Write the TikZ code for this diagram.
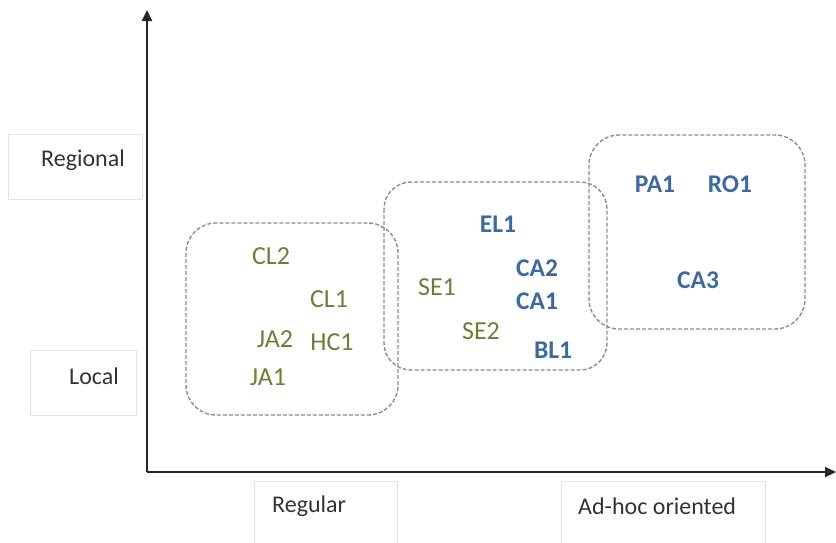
\documentclass[tikz,border=0pt]{standalone}
\usepackage{fontspec}
\setmainfont{Carlito}
\usetikzlibrary{arrows.meta}
\definecolor{olivetxt}{HTML}{6E7D37}
\definecolor{bluetxt}{HTML}{3C6AA0}
\definecolor{axisgray}{HTML}{262626}
\definecolor{boxline}{HTML}{E3E3E3}
\definecolor{dashgray}{HTML}{8C8C8C}
\tikzset{
  axisline/.style={line width=2.2pt, draw=axisgray, -{Triangle[length=11pt,width=10pt]}},
  labelbox/.style={draw=boxline, line width=0.8pt},
  axistext/.style={font=\fontsize{24}{26}\selectfont, text=black!80, anchor=west, inner sep=0pt},
  grpbox/.style={draw=dashgray, line width=1.4pt, dash pattern=on 4pt off 2pt},
  gitem/.style={font=\fontsize{26}{28}\selectfont, text=olivetxt, inner sep=0pt},
  bitem/.style={font=\bfseries\fontsize{25.5}{28}\selectfont, text=bluetxt, inner sep=0pt},
}
\begin{document}
\begin{tikzpicture}[x=1pt,y=-1pt]
\useasboundingbox (0,0) rectangle (836,542);

% axis category boxes
\draw[labelbox] (8,134) rectangle (142,199);
\draw[labelbox] (30,350) rectangle (136,415);
\draw[labelbox] (254,481) rectangle (397,560);
\draw[labelbox] (561,481) rectangle (765,560);

\node[axistext] (regional) at (41,160) {Regional};
\node[axistext] (local) at (69,376) {Local};
\node[axistext] (regular) at (272,506) {Regular};
\node[axistext] (adhoc) at (578,506) {Ad-hoc oriented};

% axes
\coordinate (origin) at (147,472);
\coordinate (ytip) at (147,10);
\coordinate (xtip) at (836,472);
\draw[axisline] (origin) -- (ytip);
\draw[axisline] (origin) -- (xtip);

% group outlines
\draw[grpbox, rounded corners=30pt] (186,223) rectangle (398,415);
\draw[grpbox, rounded corners=27pt] (384,182) rectangle (607,370);
\draw[grpbox, rounded corners=30pt] (589,135) rectangle (805,329);

% items
\node[gitem] (CL2) at (271,256) {CL2};
\node[gitem] (CL1) at (329,299) {CL1};
\node[gitem] (JA2) at (275,339) {JA2};
\node[gitem] (HC1) at (332,342) {HC1};
\node[gitem] (JA1) at (268,377) {JA1};
\node[gitem] (SE1) at (437,287) {SE1};
\node[gitem] (SE2) at (481,331) {SE2};

\node[bitem] (EL1) at (498,224) {EL1};
\node[bitem] (CA2) at (537,268) {CA2};
\node[bitem] (CA1) at (537,301) {CA1};
\node[bitem] (BL1) at (553,350) {BL1};
\node[bitem] (PA1) at (655,184) {PA1};
\node[bitem] (RO1) at (730,184) {RO1};
\node[bitem] (CA3) at (698,280) {CA3};
\end{tikzpicture}
\end{document}
